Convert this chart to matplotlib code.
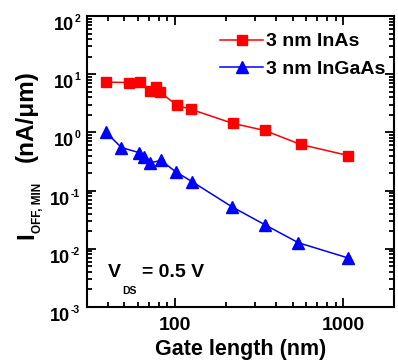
import matplotlib
matplotlib.use('Agg')
import matplotlib.pyplot as plt
import matplotlib.transforms as mtransforms
from matplotlib.ticker import LogLocator, FixedLocator, FixedFormatter, NullFormatter

#fuente tipo Arial en negrita para todo
plt.rcParams['font.family'] = ['Liberation Sans', 'DejaVu Sans']
plt.rcParams['font.weight'] = 'bold'
plt.rcParams['axes.labelweight'] = 'bold'

# datos
gate_inas = [39, 53.5, 62, 71, 77, 81.5, 103, 124, 220, 341, 557, 1070]
ioff_inas = [7.3, 7.2, 7.3, 5.1, 6.0, 4.9, 2.9, 2.5, 1.43, 1.08, 0.62, 0.40]

gate_ingaas = [39, 48, 61, 65.6, 71, 82.6, 101, 126, 217, 341, 541, 1060]
ioff_ingaas = [1.0, 0.55, 0.45, 0.38, 0.30, 0.33, 0.21, 0.143, 0.053, 0.026, 0.0127, 0.007]

labels = ['3 nm InAs', '3 nm InGaAs']
y_exponents = [-3, -2, -1, 0, 1, 2]

W, H = 398, 360
fig = plt.figure(figsize=(W / 100, H / 100), dpi=100)
ax = fig.add_axes([87 / W, 1 - 307 / H, 307 / W, 291 / H])

ax.plot(gate_inas, ioff_inas, color='red', lw=1.1, marker='s', markersize=6.5,
        label=labels[0])
ax.plot(gate_ingaas, ioff_ingaas, color='blue', lw=1.1, marker='^', markersize=8.5,
        label=labels[1])

ax.set_xscale('log')
ax.set_yscale('log')
ax.set_xlim(30, 2000)
ax.set_ylim(1e-3, 1e2)

ax.xaxis.set_major_locator(FixedLocator([100, 1000]))
ax.xaxis.set_major_formatter(FixedFormatter(['100', '1000']))
ax.xaxis.set_minor_locator(LogLocator(base=10, subs=range(2, 10)))
ax.xaxis.set_minor_formatter(NullFormatter())
ax.yaxis.set_major_locator(FixedLocator([10.0 ** e for e in y_exponents]))
ax.yaxis.set_major_formatter(NullFormatter())
ax.yaxis.set_minor_locator(LogLocator(base=10, subs=range(2, 10), numticks=10))
ax.yaxis.set_minor_formatter(NullFormatter())

ax.tick_params(which='both', direction='in', top=True, right=True, labelsize=14, width=1.3)
ax.tick_params(which='major', length=6.5)
ax.tick_params(which='minor', length=3.5)
ax.tick_params(axis='x', pad=7)
for s in ax.spines.values():
    s.set_linewidth(1.5)

# etiquetas del eje y: "10" grande y exponente pequeño
px = 1 / 100
for e in y_exponents:
    tr = ax.get_yaxis_transform() + mtransforms.ScaledTranslation(-7 * px, -6 * px, fig.dpi_scale_trans)
    exp_t = ax.text(0, 10.0 ** e, str(e), transform=tr, fontsize=7.5,
                    ha='right', va='baseline')
    ax.annotate('10', xy=(0, 0), xycoords=exp_t, xytext=(-0.4, -4.3),
                textcoords='offset points', fontsize=13, ha='right', va='baseline')

ax.set_xlabel('Gate length (nm)', fontsize=15.5, labelpad=4)

# etiqueta del eje y armada por partes (subíndice pequeño)
ykw = dict(rotation=90, rotation_mode='anchor', ha='left', va='baseline')
fig.text(33 / W, 1 - 239 / H, 'I', fontsize=17.5, **ykw)
fig.text(41 / W, 1 - 233 / H, 'OFF, MIN', fontsize=8.5, **ykw)
fig.text(33 / W, 1 - 162 / H, '(nA/\u03bcm)', fontsize=17.5, **ykw)

# V_DS = 0.5 V
fig.text(108 / W, 1 - 277 / H, 'V', fontsize=14, va='baseline')
fig.text(122 / W, 1 - 294 / H, 'DS', fontsize=7.5, va='baseline')
fig.text(142 / W, 1 - 277 / H, '= 0.5 V', fontsize=14, va='baseline')

ax.legend(loc='upper right', bbox_to_anchor=(1 - 1 / 307, 0.969), frameon=False,
          fontsize=14, handlelength=2.2, handletextpad=0.15, borderaxespad=0,
          labelspacing=0.5)

plt.savefig('out.png', dpi=100)
